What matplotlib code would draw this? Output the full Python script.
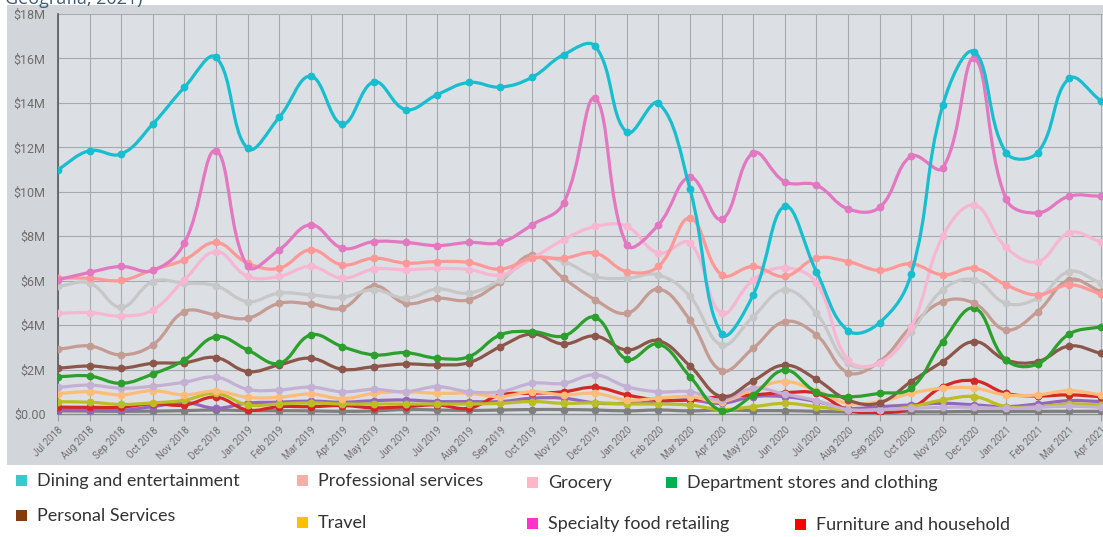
import numpy as np
import matplotlib
matplotlib.use("Agg")
import matplotlib.pyplot as plt
from matplotlib.path import Path
from matplotlib.patches import PathPatch, Rectangle

W, H = 1103, 537

months = [
    "Jul 2018", "Aug 2018", "Sep 2018", "Oct 2018", "Nov 2018", "Dec 2018",
    "Jan 2019", "Feb 2019", "Mar 2019", "Apr 2019", "May 2019", "Jun 2019",
    "Jul 2019", "Aug 2019", "Sep 2019", "Oct 2019", "Nov 2019", "Dec 2019",
    "Jan 2020", "Feb 2020", "Mar 2020", "Apr 2020", "May 2020", "Jun 2020",
    "Jul 2020", "Aug 2020", "Sep 2020", "Oct 2020", "Nov 2020", "Dec 2020",
    "Jan 2021", "Feb 2021", "Mar 2021", "Apr 2021",
]

# monthly spend, $M
dining = [11.0, 11.85, 11.7, 13.05, 14.7, 16.05, 11.95, 13.35, 15.2, 13.05, 14.95, 13.7,
          14.37, 14.92, 14.71, 15.15, 16.17, 16.55, 12.67, 13.99, 10.12, 3.6, 5.36, 9.34,
          6.41, 3.75, 4.11, 6.31, 13.9, 16.3, 11.76, 11.76, 15.1, 14.1]
other = [6.04, 6.37, 6.64, 6.46, 7.69, 11.85, 6.64, 7.39, 8.51, 7.46, 7.76, 7.72,
         7.58, 7.72, 7.72, 8.51, 9.49, 14.2, 7.61, 8.51, 10.65, 8.76, 11.75, 10.45,
         10.3, 9.23, 9.3, 11.6, 11.07, 16.0, 9.68, 9.05, 9.8, 9.8]
professional = [6.11, 6.11, 6.01, 6.49, 6.94, 7.72, 6.79, 6.56, 7.39, 6.71, 7.01, 6.79,
                6.86, 6.82, 6.52, 7.01, 7.01, 7.24, 6.41, 6.64, 8.81, 6.26, 6.64, 6.19,
                7.01, 6.86, 6.46, 6.76, 6.26, 6.56, 5.81, 5.36, 5.81, 5.4]
grocery = [4.53, 4.56, 4.41, 4.68, 6.04, 7.31, 6.19, 6.19, 6.64, 6.11, 6.52, 6.49,
           6.55, 6.5, 6.26, 7.0, 7.84, 8.44, 8.44, 7.24, 7.69, 4.53, 6.04, 6.58,
           5.9, 2.43, 2.3, 3.9, 8.0, 9.4, 7.5, 6.85, 8.15, 7.75]
silver = [5.74, 5.89, 4.8, 5.96, 5.89, 5.77, 5.06, 5.44, 5.36, 5.26, 5.59, 5.21,
          5.62, 5.44, 6.04, 7.01, 6.86, 6.19, 6.11, 6.26, 5.29, 3.11, 4.38, 5.59,
          4.53, 2.28, 2.3, 3.7, 5.59, 6.04, 4.98, 5.21, 6.41, 5.89]
tan = [2.91, 3.06, 2.66, 3.11, 4.61, 4.46, 4.31, 4.98, 4.95, 4.76, 5.77, 4.98,
       5.21, 5.14, 5.96, 7.16, 6.11, 5.14, 4.53, 5.62, 4.23, 1.95, 2.96, 4.16,
       3.56, 1.86, 2.36, 3.93, 5.06, 4.98, 3.78, 4.61, 6.04, 5.51]
department = [1.68, 1.71, 1.38, 1.8, 2.43, 3.48, 2.88, 2.28, 3.56, 3.03, 2.66, 2.76,
              2.51, 2.58, 3.56, 3.71, 3.51, 4.35, 2.46, 3.15, 1.68, 0.15, 0.86, 1.98,
              1.0, 0.78, 0.93, 1.16, 3.26, 4.76, 2.43, 2.25, 3.6, 3.93]
personal = [2.06, 2.16, 2.06, 2.28, 2.31, 2.54, 1.91, 2.21, 2.51, 2.01, 2.13, 2.25,
            2.21, 2.31, 3.03, 3.6, 3.15, 3.51, 2.88, 3.3, 2.16, 0.78, 1.5, 2.2,
            1.56, 0.63, 0.5, 1.46, 2.36, 3.26, 2.43, 2.36, 3.06, 2.73]
lavender = [1.2, 1.3, 1.16, 1.25, 1.43, 1.66, 1.11, 1.08, 1.21, 1.0, 1.11, 1.0,
            1.23, 1.0, 1.0, 1.38, 1.38, 1.76, 1.23, 1.0, 1.0, 0.63, 1.16, 0.9,
            0.6, 0.2, 0.2, 0.25, 0.3, 0.3, 0.25, 0.3, 0.35, 0.3]
travel = [0.92, 1.0, 0.86, 1.05, 0.86, 1.03, 0.75, 0.75, 0.9, 0.69, 0.93, 1.0,
          0.93, 0.93, 0.78, 1.0, 0.86, 0.93, 0.63, 0.71, 0.78, 0.56, 1.1, 1.46,
          1.05, 0.48, 0.56, 0.93, 1.16, 1.16, 0.86, 0.86, 1.05, 0.86]
olive = [0.55, 0.53, 0.43, 0.5, 0.62, 0.93, 0.41, 0.45, 0.5, 0.45, 0.45, 0.45,
         0.45, 0.45, 0.48, 0.56, 0.48, 0.5, 0.45, 0.45, 0.4, 0.2, 0.33, 0.48,
         0.33, 0.18, 0.18, 0.33, 0.63, 0.78, 0.33, 0.33, 0.45, 0.41]
furniture = [0.31, 0.3, 0.31, 0.46, 0.4, 0.76, 0.18, 0.33, 0.33, 0.38, 0.28, 0.33,
             0.41, 0.26, 0.86, 0.93, 1.0, 1.2, 0.86, 0.63, 0.63, 0.78, 0.86, 0.96,
             0.93, 0.18, 0.06, 0.26, 1.23, 1.5, 0.93, 0.81, 0.86, 0.78]
specialty = [0.19, 0.2, 0.17, 0.33, 0.52, 0.26, 0.49, 0.53, 0.58, 0.53, 0.6, 0.63,
             0.56, 0.56, 0.56, 0.71, 0.71, 0.5, 0.48, 0.56, 0.63, 0.48, 0.78, 0.78,
             0.56, 0.26, 0.33, 0.41, 0.48, 0.41, 0.33, 0.45, 0.6, 0.56]
base = [0.14, 0.13, 0.12, 0.13, 0.15, 0.18, 0.15, 0.15, 0.14, 0.12, 0.14, 0.2,
        0.18, 0.16, 0.18, 0.2, 0.2, 0.18, 0.14, 0.18, 0.14, 0.18, 0.15, 0.15,
        0.12, 0.1, 0.1, 0.1, 0.1, 0.12, 0.12, 0.12, 0.12, 0.12]

# drawn bottom-up, last one ends on top
series = [
    (base, "#7f7f7f"),
    (specialty, "#9467bd"),
    (furniture, "#d62728"),
    (olive, "#bcbd22"),
    (travel, "#ffbb78"),
    (lavender, "#c5b0d5"),
    (personal, "#8c564b"),
    (department, "#2ca02c"),
    (tan, "#c49c94"),
    (silver, "#c7c7c7"),
    (grocery, "#f7b6d2"),
    (professional, "#ff9896"),
    (other, "#e377c2"),
    (dining, "#17becf"),
]

legend_rows = [
    [("Dining and entertainment", "#33cccc", 16), ("Professional services", "#f4b0a8", 297),
     ("Grocery", "#ffb7c8", 527), ("Department stores and clothing", "#00b050", 666)],
    [("Personal Services", "#843c0c", 16), ("Travel", "#ffc000", 297),
     ("Specialty food retailing", "#ff33cc", 527), ("Furniture and household", "#ff0000", 795)],
]
legend_y = [[481, 481, 483, 483], [516, 523, 524, 525]]

yticks = np.arange(0, 19, 2)
ylabels = ["$0.00"] + [f"${v}M" for v in yticks[1:]]

# pixel geometry of the plot box
X0, X1, YTOP, YBOT = 58, 1103, 14, 414
STEP = 31.6


def smooth_path(xs, ys, sx, sy, tension=0.4):
    """Cubic bezier through the points, control points weighted by segment length."""
    pts = np.column_stack([xs, ys]).astype(float)
    n = len(pts)
    scale = np.array([sx, sy])
    prev_cp, next_cp = [], []
    for i in range(n):
        p0 = pts[max(i - 1, 0)]
        p1 = pts[i]
        p2 = pts[min(i + 1, n - 1)]
        d01 = np.hypot(*((p1 - p0) * scale))
        d12 = np.hypot(*((p2 - p1) * scale))
        tot = d01 + d12
        s01 = d01 / tot if tot else 0.0
        fa = tension * s01
        fb = tension * (1 - s01)
        prev_cp.append(p1 - fa * (p2 - p0))
        next_cp.append(p1 + fb * (p2 - p0))
    verts = [pts[0]]
    codes = [Path.MOVETO]
    for i in range(n - 1):
        verts += [next_cp[i], prev_cp[i + 1], pts[i + 1]]
        codes += [Path.CURVE4] * 3
    return Path(verts, codes)


fig = plt.figure(figsize=(W / 100, H / 100), dpi=100)
fig.patch.set_facecolor("white")

# grey chart panel behind the plot
panel = fig.add_axes([7 / W, 1 - 465 / H, (W - 7) / W, (465 - 5) / H], zorder=-5)
panel.set_facecolor("#d2d5d9")
panel.set_axis_off()
panel.add_patch(Rectangle((0, 0), 1, 1, transform=panel.transAxes,
                          facecolor="#d2d5d9", edgecolor="none"))

ax = fig.add_axes([X0 / W, 1 - YBOT / H, (X1 - X0) / W, (YBOT - YTOP) / H], zorder=1)
ax.set_facecolor("#dcdfe3")
ax.set_xlim(0, (X1 - X0) / STEP)
ax.set_ylim(0, 18)

x = np.arange(len(months))
sx = STEP
sy = (YBOT - YTOP) / 18
for z, (vals, color) in enumerate(series):
    path = smooth_path(x, vals, sx, sy)
    ax.add_patch(PathPatch(path, facecolor="none", edgecolor=color, lw=2.3,
                           capstyle="round", joinstyle="round", zorder=3 + z * 0.1))
    ax.plot(x, vals, "o", color=color, ms=4.6, mec=color, zorder=3 + z * 0.1 + 0.05)

ax.set_xticks(x)
ax.set_xticklabels(months, rotation=45, ha="right", va="top", rotation_mode="anchor",
                   fontsize=7, color="#707070", family="Roboto")
ax.set_yticks(yticks)
ax.set_yticklabels(ylabels, fontsize=9, color="#6e6e6e", family="Roboto")
ax.tick_params(axis="x", length=5, color="#9a9ea3", pad=3)
ax.tick_params(axis="y", length=0, pad=9)
ax.grid(True, color="#a6aaaf", lw=0.8, zorder=1)
ax.set_axisbelow(True)
for side in ("top", "right"):
    ax.spines[side].set_visible(False)
ax.spines["left"].set_color("#5a5a5a")
ax.spines["left"].set_linewidth(1.2)
ax.spines["bottom"].set_color("#8a8e93")
ax.spines["bottom"].set_linewidth(1.0)

# source note running off the top edge
fig.text(5 / W, 1 - 4 / H, "Geografia, 2021)", fontsize=13, color="#3d5a78",
         family="Open Sans", va="baseline", ha="left")

# legend boxes below the panel
for row, ys in zip(legend_rows, legend_y):
    for (label, color, px), py in zip(row, ys):
        fig.patches.append(Rectangle((px / W, 1 - (py + 5) / H), 11 / W, 11 / H,
                                     transform=fig.transFigure, facecolor=color,
                                     edgecolor="none"))
        fig.text((px + 21) / W, 1 - py / H, label, fontsize=13, color="#333333",
                 family="Lato", va="center", ha="left")

fig.savefig("out.png", dpi=100, facecolor="white")
